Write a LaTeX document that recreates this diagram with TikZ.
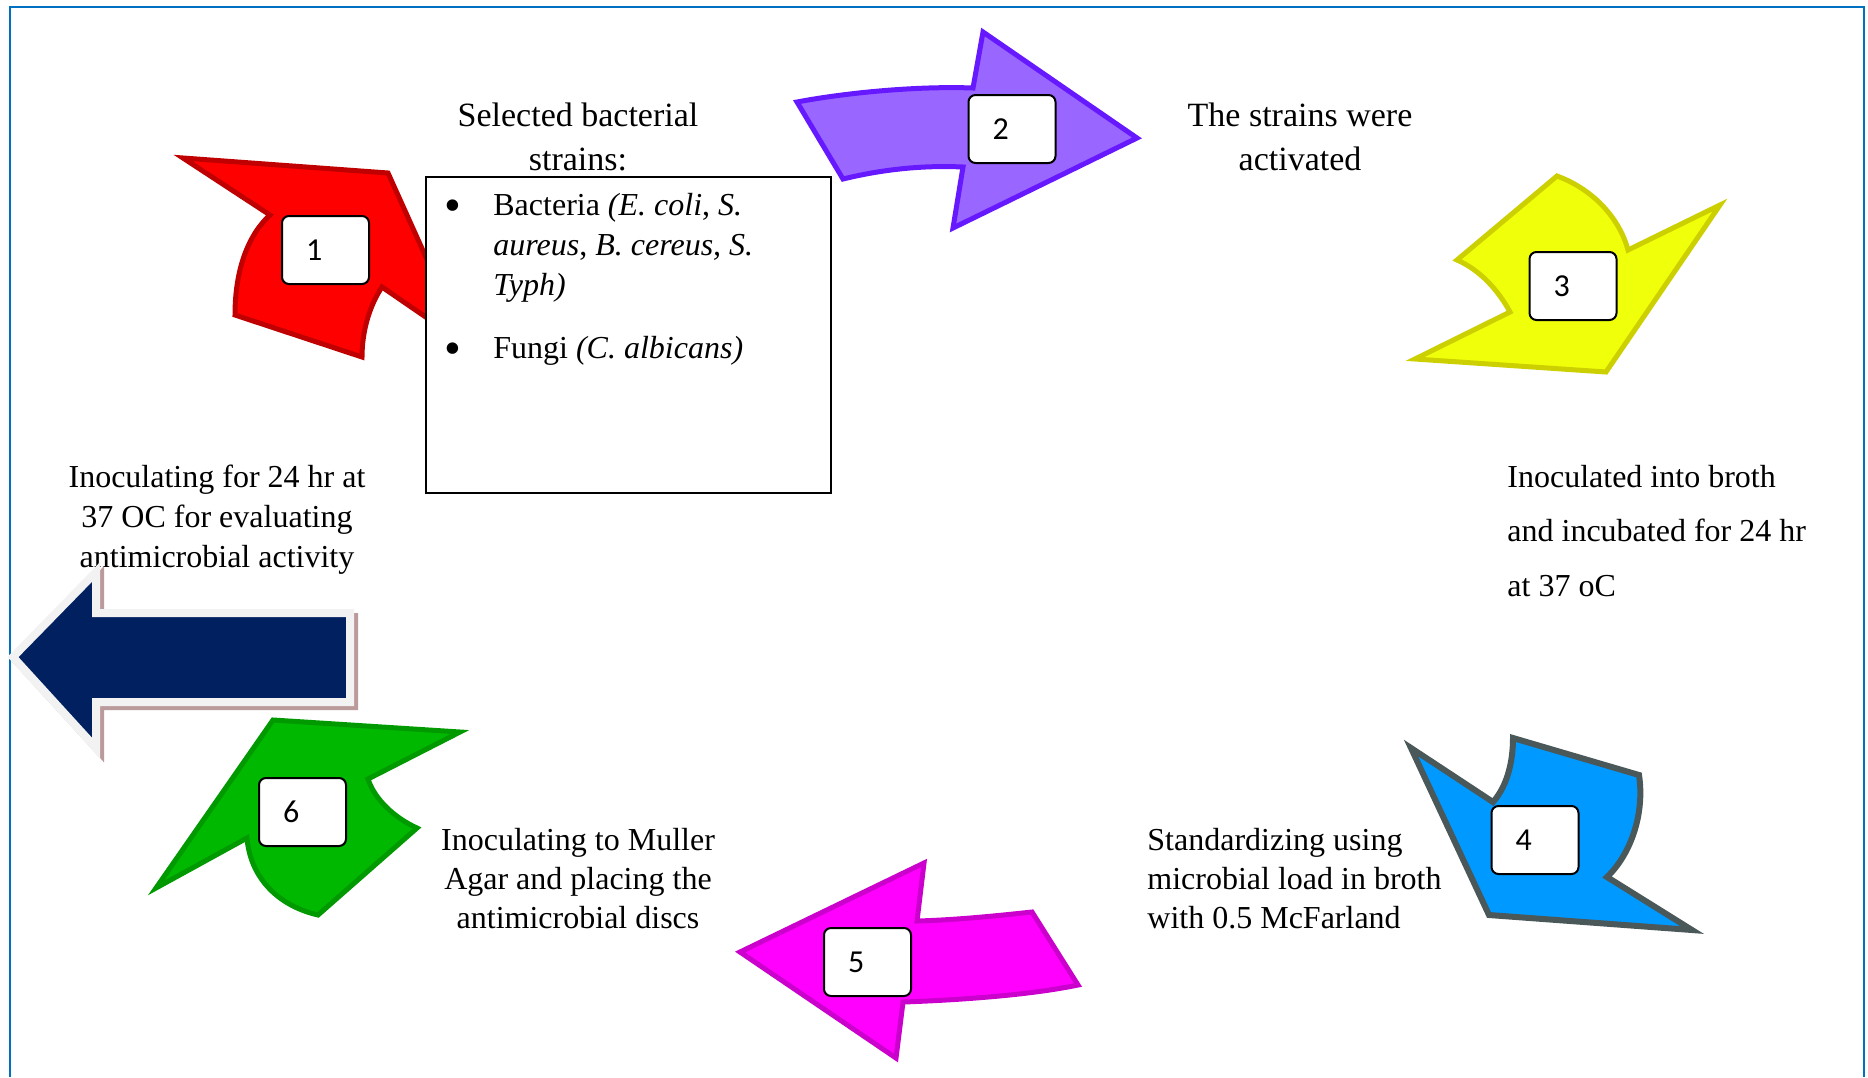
\documentclass[tikz,border=0pt]{standalone}
\usepackage{fontspec}
\setmainfont{Liberation Serif}
\newfontfamily\numfont{Carlito}
\definecolor{frameblue}{HTML}{0070C0}
\definecolor{redfill}{HTML}{FF0000}
\definecolor{redline}{HTML}{C00000}
\definecolor{purfill}{HTML}{9966FF}
\definecolor{purline}{HTML}{6619FF}
\definecolor{yelfill}{HTML}{F0FF0A}
\definecolor{yelline}{HTML}{CCD000}
\definecolor{bluefill}{HTML}{0099FF}
\definecolor{blueline}{HTML}{4A5859}
\definecolor{magfill}{HTML}{FF00FF}
\definecolor{magline}{HTML}{CC00CC}
\definecolor{grnfill}{HTML}{00B800}
\definecolor{grnline}{HTML}{009900}
\definecolor{navy}{HTML}{002060}
\definecolor{navyline}{HTML}{F2F2F2}
\definecolor{shadowc}{HTML}{BA9A9A}
\tikzset{
  bigarrow/.style={line width=2.5pt, line join=miter},
  numbox/.style={draw=black, line width=1pt, fill=white, rounded corners=3.5pt,
    minimum height=34pt, text width=19.5pt, inner xsep=12pt, inner ysep=0pt,
    align=left, font=\numfont\fontsize{16}{17}\selectfont},
  bigtxt/.style={font=\fontsize{17}{22}\selectfont, inner sep=0pt},
  txt/.style={font=\fontsize{16}{20}\selectfont, inner sep=0pt},
  bulletmark/.style={font=\fontsize{24}{20}\selectfont, inner sep=0pt},
}
\begin{document}
\begin{tikzpicture}[x=0.5pt,y=-0.5pt]
\useasboundingbox (0,0) rectangle (1868,1077);
% frame
\draw[frameblue, line width=1.2pt] (10,1077) -- (10,7) -- (1864,7) -- (1864,1077);

% texts
\node[bigtxt, anchor=north, align=center] (t1) at (578,103) {Selected bacterial\\strains:};
\node[bigtxt, anchor=north, align=center] (t2) at (1300,103) {The strains were\\activated};
\node[txt, anchor=north west, align=left, font=\fontsize{16}{27.4}\selectfont] (t3) at (1507,464.5) {Inoculated into broth\\and incubated for 24 hr\\at 37 oC};
\node[txt, anchor=north west, align=left, font=\fontsize{16}{19.5}\selectfont] (t4) at (1147,828) {Standardizing using\\microbial load in broth\\with 0.5 McFarland};
\node[txt, anchor=north, align=center, font=\fontsize{16}{19.5}\selectfont] (t5) at (578,828) {Inoculating to Muller\\Agar and placing the\\antimicrobial discs};
\node[txt, anchor=north, align=center] (t6) at (217,464.5) {Inoculating for 24 hr at\\37 OC for evaluating\\antimicrobial activity};

% red arrow 1
\draw[bigarrow, draw=redline, fill=redfill] (183,158) -- (388,173) -- (465,344) -- (382,287)
  .. controls (370,305) and (362,330) .. (362,357) -- (235,315)
  .. controls (235,270) and (248,235) .. (270,215) -- cycle;

% strains box
\node[draw=black, line width=1pt, fill=white, anchor=north west, inner sep=0pt,
  minimum width=202.5pt, minimum height=158pt] (sbox) at (425,176) {};
\node[bulletmark, anchor=base] (bul1) at (453,221) {\textbullet};
\node[txt, anchor=north west, align=left] (item1) at (493,193)
  {Bacteria \textit{(E. coli}, \textit{S.}\\\textit{aureus}, \textit{B. cereus, S.}\\\textit{Typh)}};
\node[bulletmark, anchor=base] (bul2) at (453,364) {\textbullet};
\node[txt, anchor=base west] (item2) at (493,358) {Fungi \textit{(C. albicans)}};

% purple arrow 2
\draw[bigarrow, draw=purline, fill=purfill] (797,102) .. controls (850,92) and (920,86) .. (973,88)
  -- (983,32) -- (1137,138) -- (953,228) -- (963,167)
  .. controls (920,165) and (880,170) .. (843,179) -- cycle;

% yellow arrow 3
\draw[bigarrow, draw=yelline, fill=yelfill] (1557,176) .. controls (1595,190) and (1620,220) .. (1628,250)
  -- (1720,205) -- (1606,372) -- (1415,359) -- (1510,312)
  .. controls (1498,290) and (1480,270) .. (1457,260) -- cycle;

% blue arrow 4
\draw[line width=3pt, line join=miter, draw=blueline, fill=bluefill] (1411,748) -- (1493,802)
  .. controls (1508,785) and (1513,760) .. (1513,738) -- (1639,775)
  .. controls (1645,815) and (1630,855) .. (1607,877) -- (1692,930) -- (1489,915) -- cycle;

% magenta arrow 5
\draw[bigarrow, draw=magline, fill=magfill] (740,952) -- (924,863) -- (917,921)
  .. controls (955,920) and (995,916) .. (1032,912) -- (1078,985)
  .. controls (1030,995) and (960,1000) .. (903,1002) -- (896,1058) -- cycle;

% green arrow 6
\draw[bigarrow, draw=grnline, fill=grnfill] (273,720) -- (460,732) -- (368,779)
  .. controls (375,800) and (395,818) .. (417,828) -- (318,915)
  .. controls (275,905) and (250,875) .. (247,838) -- (156,888) -- cycle;

% navy arrow
\draw[line width=4pt, line join=miter, draw=shadowc, fill=shadowc, shift={(4,4)}]
  (13,657) -- (96,572) -- (96,613) -- (350,613) -- (350,702) -- (96,702) -- (96,748) -- cycle;
\draw[line width=4pt, line join=miter, draw=navyline, fill=navy]
  (13,657) -- (96,572) -- (96,613) -- (350,613) -- (350,702) -- (96,702) -- (96,748) -- cycle;

% number boxes
\node[numbox] (n1) at (325.5,250) {1};
\node[numbox] (n2) at (1012,129) {2};
\node[numbox] (n3) at (1573,286) {3};
\node[numbox] (n4) at (1535,840) {4};
\node[numbox] (n5) at (867.5,962) {5};
\node[numbox] (n6) at (302.5,812) {6};
\end{tikzpicture}
\end{document}
